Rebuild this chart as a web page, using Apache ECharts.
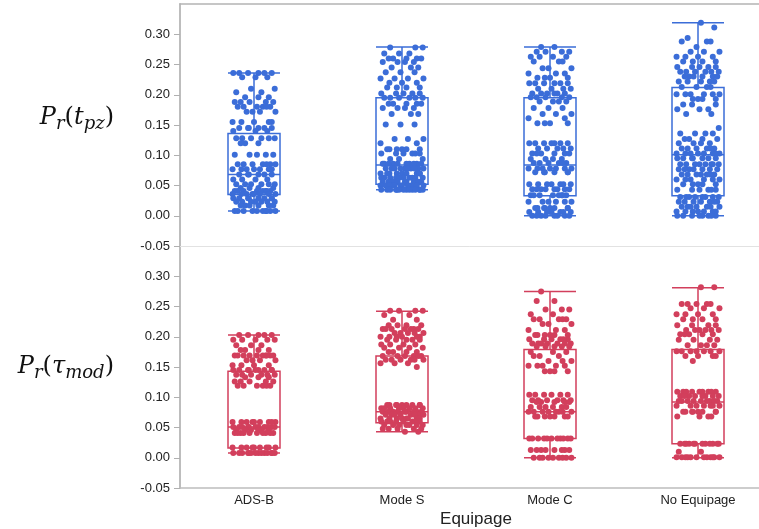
<!DOCTYPE html>
<html>
<head>
<meta charset="utf-8">
<script src="https://cdn.jsdelivr.net/npm/echarts@6/dist/echarts.min.js"></script>
<style>html,body{margin:0;padding:0;background:#fff}#c{width:759px;height:529px}</style>
</head>
<body>
<div id="c"></div>
<script>
const CATS = ['ADS-B', 'Mode S', 'Mode C', 'No Equipage'];
const Y_TICKS = [-0.05, 0, 0.05, 0.1, 0.15, 0.2, 0.25, 0.3];

// box stats [min, Q1, median, Q3, max]
const BOX_TOP = [[0.008,0.035,0.068,0.136,0.236],[0.043,0.052,0.084,0.195,0.279],[0,0.033,0.084,0.195,0.279],[0,0.033,0.101,0.212,0.319]];
const BOX_BOT = [[0.008,0.016,0.051,0.143,0.203],[0.043,0.058,0.076,0.168,0.242],[0,0.032,0.076,0.179,0.275],[0,0.023,0.092,0.179,0.281]];

// horizontal jitter offsets (category units)
const JITTER = [0.03,-0.10,0.12,-0.04,0.07,-0.14,0.01,0.09,-0.08,0.14,-0.02,0.05,-0.12,0.10,-0.06,0.03,-0.09,0.13,-0.03,0.08,-0.13,0.02,0.11,-0.07,0.06,-0.11,0.085,-0.01,0.145,-0.05,0.04,-0.145,0.10,-0.085,0.00,0.12,-0.035];

// P_r(t_pz) points
const TOP_ADSB = [0.236,0.236,0.236,0.236,0.236,0.236,0.229,0.229,0.229,0.21,0.21,0.204,0.204,0.196,0.196,0.196,0.188,0.188,0.188,0.188,0.188,0.18,0.18,0.18,0.18,0.18,0.18,0.172,0.172,0.172,0.172,0.155,0.155,0.155,0.155,0.155,0.145,0.145,0.145,0.145,0.145,0.145,0.14,0.14,0.14,0.128,0.128,0.128,0.128,0.128,0.128,0.12,0.12,0.12,0.101,0.101,0.101,0.101,0.101,0.085,0.085,0.085,0.085,0.085,0.085,0.085,0.077,0.077,0.077,0.077,0.077,0.077,0.077,0.068,0.068,0.068,0.068,0.068,0.068,0.06,0.06,0.06,0.06,0.052,0.052,0.052,0.052,0.052,0.052,0.046,0.046,0.046,0.046,0.041,0.041,0.041,0.041,0.041,0.041,0.041,0.041,0.036,0.036,0.036,0.036,0.036,0.036,0.036,0.036,0.029,0.029,0.029,0.029,0.029,0.029,0.029,0.029,0.023,0.023,0.023,0.023,0.023,0.023,0.023,0.017,0.017,0.017,0.017,0.017,0.017,0.008,0.008,0.008,0.008,0.008,0.008,0.008,0.008,0.008,0.008];
const TOP_MODES = [0.278,0.278,0.278,0.268,0.268,0.268,0.26,0.26,0.26,0.26,0.26,0.254,0.254,0.254,0.254,0.245,0.245,0.245,0.237,0.237,0.237,0.227,0.227,0.227,0.227,0.22,0.22,0.22,0.212,0.212,0.212,0.212,0.202,0.202,0.202,0.202,0.202,0.195,0.195,0.195,0.195,0.195,0.195,0.185,0.185,0.185,0.185,0.185,0.178,0.178,0.178,0.178,0.168,0.168,0.168,0.151,0.151,0.151,0.127,0.127,0.127,0.12,0.12,0.11,0.11,0.11,0.11,0.11,0.11,0.103,0.103,0.103,0.103,0.103,0.103,0.094,0.094,0.094,0.086,0.086,0.086,0.086,0.086,0.086,0.086,0.086,0.086,0.086,0.078,0.078,0.078,0.078,0.078,0.078,0.078,0.078,0.078,0.078,0.07,0.07,0.07,0.07,0.07,0.07,0.07,0.07,0.07,0.063,0.063,0.063,0.063,0.063,0.063,0.063,0.063,0.063,0.063,0.056,0.056,0.056,0.056,0.056,0.056,0.056,0.056,0.056,0.056,0.05,0.05,0.05,0.05,0.05,0.05,0.05,0.05,0.05,0.05,0.05,0.05,0.043,0.043,0.043,0.043,0.043,0.043,0.043,0.043,0.043,0.043,0.043,0.043,0.043,0.043];
const TOP_MODEC = [0.279,0.279,0.271,0.271,0.271,0.271,0.263,0.263,0.263,0.263,0.255,0.255,0.255,0.244,0.244,0.244,0.235,0.235,0.235,0.228,0.228,0.228,0.228,0.219,0.219,0.219,0.219,0.219,0.219,0.21,0.21,0.21,0.21,0.202,0.202,0.202,0.202,0.202,0.202,0.196,0.196,0.196,0.196,0.196,0.189,0.189,0.189,0.189,0.178,0.178,0.178,0.168,0.168,0.168,0.161,0.161,0.153,0.153,0.153,0.153,0.12,0.12,0.12,0.12,0.12,0.12,0.12,0.111,0.111,0.111,0.111,0.111,0.103,0.103,0.103,0.103,0.103,0.103,0.094,0.094,0.094,0.094,0.087,0.087,0.087,0.087,0.087,0.087,0.078,0.078,0.078,0.078,0.078,0.078,0.078,0.072,0.072,0.072,0.072,0.072,0.072,0.052,0.052,0.052,0.052,0.052,0.052,0.052,0.044,0.044,0.044,0.044,0.044,0.044,0.044,0.044,0.034,0.034,0.034,0.034,0.034,0.034,0.034,0.034,0.023,0.023,0.023,0.023,0.023,0.023,0.013,0.013,0.013,0.013,0.013,0.013,0.013,0.013,0.006,0.006,0.006,0.006,0.006,0.006,0.006,0,0,0,0,0,0,0,0];
const TOP_NOEQ = [0.319,0.311,0.294,0.288,0.288,0.288,0.279,0.271,0.271,0.271,0.263,0.263,0.263,0.263,0.255,0.255,0.255,0.255,0.246,0.246,0.246,0.246,0.246,0.238,0.238,0.238,0.238,0.238,0.238,0.23,0.23,0.23,0.23,0.23,0.23,0.222,0.222,0.222,0.222,0.222,0.213,0.213,0.213,0.213,0.201,0.201,0.201,0.201,0.201,0.201,0.193,0.193,0.193,0.193,0.184,0.184,0.184,0.176,0.176,0.176,0.168,0.168,0.145,0.136,0.136,0.136,0.136,0.127,0.127,0.127,0.127,0.12,0.12,0.12,0.12,0.111,0.111,0.111,0.111,0.111,0.111,0.103,0.103,0.103,0.103,0.103,0.103,0.103,0.103,0.095,0.095,0.095,0.095,0.095,0.095,0.095,0.085,0.085,0.085,0.085,0.085,0.085,0.085,0.085,0.077,0.077,0.077,0.077,0.077,0.077,0.077,0.068,0.068,0.068,0.068,0.068,0.068,0.068,0.06,0.06,0.06,0.06,0.06,0.06,0.052,0.052,0.052,0.052,0.052,0.043,0.043,0.043,0.043,0.043,0.043,0.031,0.031,0.031,0.031,0.031,0.031,0.031,0.031,0.023,0.023,0.023,0.023,0.023,0.023,0.023,0.015,0.015,0.015,0.015,0.015,0.015,0.015,0.007,0.007,0.007,0.007,0.007,0.007,0.007,0,0,0,0,0,0,0,0];

// P_r(tau_mod) points
const BOT_ADSB = [0.203,0.203,0.203,0.203,0.203,0.195,0.195,0.195,0.195,0.195,0.186,0.186,0.186,0.178,0.178,0.178,0.178,0.169,0.169,0.169,0.169,0.169,0.169,0.169,0.169,0.169,0.169,0.161,0.161,0.161,0.161,0.153,0.153,0.153,0.153,0.145,0.145,0.145,0.145,0.145,0.145,0.145,0.145,0.145,0.137,0.137,0.137,0.137,0.137,0.137,0.133,0.133,0.133,0.126,0.126,0.126,0.126,0.126,0.119,0.119,0.119,0.119,0.119,0.119,0.059,0.059,0.059,0.059,0.059,0.059,0.059,0.059,0.059,0.051,0.051,0.051,0.051,0.051,0.051,0.051,0.051,0.051,0.051,0.051,0.046,0.046,0.046,0.046,0.046,0.046,0.041,0.041,0.041,0.041,0.041,0.041,0.041,0.041,0.041,0.041,0.017,0.017,0.017,0.017,0.017,0.017,0.017,0.017,0.017,0.008,0.008,0.008,0.008,0.008,0.008,0.008,0.008,0.008,0.008,0.008,0.008,0.008,0.008];
const BOT_MODES = [0.243,0.243,0.243,0.243,0.236,0.236,0.228,0.228,0.219,0.219,0.219,0.219,0.213,0.213,0.213,0.213,0.213,0.213,0.213,0.206,0.206,0.206,0.206,0.206,0.2,0.2,0.2,0.2,0.2,0.2,0.195,0.195,0.195,0.195,0.195,0.187,0.187,0.187,0.187,0.182,0.182,0.182,0.182,0.175,0.175,0.175,0.175,0.168,0.168,0.168,0.168,0.168,0.168,0.162,0.162,0.162,0.162,0.162,0.162,0.156,0.156,0.156,0.15,0.087,0.087,0.087,0.087,0.087,0.087,0.087,0.087,0.087,0.082,0.082,0.082,0.082,0.082,0.082,0.082,0.082,0.076,0.076,0.076,0.076,0.076,0.076,0.076,0.076,0.076,0.071,0.071,0.071,0.071,0.071,0.071,0.071,0.071,0.065,0.065,0.065,0.065,0.065,0.065,0.065,0.065,0.06,0.06,0.06,0.06,0.06,0.06,0.06,0.06,0.054,0.054,0.054,0.054,0.054,0.054,0.054,0.048,0.048,0.048,0.048,0.048,0.043,0.043];
const BOT_MODEC = [0.275,0.259,0.259,0.245,0.245,0.245,0.237,0.237,0.229,0.229,0.229,0.229,0.229,0.221,0.221,0.221,0.211,0.211,0.211,0.203,0.203,0.203,0.203,0.203,0.203,0.196,0.196,0.196,0.196,0.196,0.196,0.189,0.189,0.189,0.189,0.189,0.189,0.189,0.184,0.184,0.184,0.184,0.184,0.175,0.175,0.175,0.168,0.168,0.168,0.16,0.16,0.16,0.152,0.152,0.152,0.152,0.152,0.143,0.143,0.143,0.143,0.104,0.104,0.104,0.104,0.104,0.104,0.095,0.095,0.095,0.095,0.095,0.095,0.092,0.092,0.092,0.092,0.092,0.084,0.084,0.084,0.084,0.084,0.084,0.076,0.076,0.076,0.076,0.076,0.076,0.076,0.076,0.068,0.068,0.068,0.068,0.068,0.068,0.068,0.032,0.032,0.032,0.032,0.032,0.032,0.032,0.032,0.032,0.032,0.032,0.013,0.013,0.013,0.013,0.013,0.013,0.013,0.013,0,0,0,0,0,0,0,0,0];
const BOT_NOEQ = [0.282,0.282,0.254,0.254,0.254,0.254,0.254,0.247,0.247,0.247,0.237,0.237,0.237,0.237,0.229,0.229,0.229,0.229,0.219,0.219,0.219,0.219,0.211,0.211,0.211,0.211,0.211,0.211,0.204,0.204,0.204,0.204,0.204,0.195,0.195,0.195,0.195,0.186,0.186,0.186,0.186,0.176,0.176,0.176,0.176,0.176,0.176,0.176,0.168,0.168,0.168,0.168,0.16,0.109,0.109,0.109,0.109,0.109,0.109,0.109,0.109,0.109,0.102,0.102,0.102,0.102,0.102,0.102,0.102,0.102,0.094,0.094,0.094,0.094,0.094,0.094,0.094,0.094,0.094,0.086,0.086,0.086,0.086,0.086,0.086,0.086,0.076,0.076,0.076,0.076,0.076,0.076,0.076,0.076,0.068,0.068,0.068,0.068,0.023,0.023,0.023,0.023,0.023,0.023,0.023,0.023,0.023,0.023,0.023,0.023,0.01,0.01,0.001,0.001,0.001,0.001,0.001,0.001,0.001,0.001,0.001,0.001,0.001,0.001];

const TOP_POINTS = [TOP_ADSB, TOP_MODES, TOP_MODEC, TOP_NOEQ];
const BOT_POINTS = [BOT_ADSB, BOT_MODES, BOT_MODEC, BOT_NOEQ];

const BLUE = '#3b6dd8';
const RED = '#d23f5c';
const SANS = 'Liberation Sans';
const SERIF = 'DejaVu Serif';

function jittered(groups) {
  const out = [];
  groups.forEach((vals, ci) => {
    vals.forEach((v, k) => {
      out.push([ci + JITTER[(k + ci * 7) % JITTER.length], v]);
    });
  });
  return out;
}

const RICH = {
  i: { fontFamily: SERIF, fontStyle: 'italic', fontSize: 24, color: '#111', lineHeight: 30 },
  n: { fontFamily: SERIF, fontSize: 24, color: '#111', lineHeight: 30 },
  s: { fontFamily: SERIF, fontStyle: 'italic', fontSize: 18, color: '#111', lineHeight: 18, verticalAlign: 'bottom' }
};

function yAxis(gridIndex, name, pad) {
  return {
    gridIndex, type: 'value', min: -0.05, max: 0.35, interval: 0.05,
    axisLine: { show: true, onZero: false, lineStyle: { color: '#bdbdbd', width: 2 } },
    axisTick: { show: true, length: 6, customValues: Y_TICKS, lineStyle: { color: '#b0b0b0', width: 1 } },
    axisLabel: { customValues: Y_TICKS, formatter: v => v.toFixed(2), fontFamily: SANS, fontSize: 13, color: '#222', margin: 10 },
    splitLine: { show: false },
    name, nameLocation: 'middle', nameRotate: 0, nameGap: 66,
    nameTextStyle: { rich: RICH, padding: pad }
  };
}

const chart = echarts.init(document.getElementById('c'), null, { renderer: 'canvas' });
chart.setOption({
  animation: false,
  backgroundColor: '#fff',
  grid: [
    { left: 180, right: -13, top: 4, height: 242, outerBoundsMode: 'none', containLabel: false },
    { left: 180, right: -13, top: 246, height: 242, outerBoundsMode: 'none', containLabel: false }
  ],
  xAxis: [
    { gridIndex: 0, type: 'category', data: CATS, position: 'top',
      axisLine: { show: true, onZero: false, lineStyle: { color: '#b4b4b4', width: 1.5 } },
      axisTick: { show: false }, axisLabel: { show: false } },
    { gridIndex: 0, type: 'value', min: -0.5, max: 3.5, position: 'bottom',
      axisLine: { show: true, onZero: false, lineStyle: { color: '#e2e2e2', width: 1 } },
      axisTick: { show: false }, axisLabel: { show: false }, splitLine: { show: false } },
    { gridIndex: 1, type: 'category', data: CATS, position: 'bottom',
      axisLine: { show: true, onZero: false, lineStyle: { color: '#bdbdbd', width: 1.5 } },
      axisTick: { show: false },
      axisLabel: { fontFamily: SANS, fontSize: 13, color: '#222', margin: 6 },
      name: 'Equipage', nameLocation: 'middle', nameGap: 23,
      nameTextStyle: { fontFamily: SANS, fontSize: 17, color: '#222' } },
    { gridIndex: 1, type: 'value', min: -0.5, max: 3.5, show: false,
      axisLine: { onZero: false }, splitLine: { show: false } }
  ],
  yAxis: [
    yAxis(0, '{i|P}{s|r}{n|(}{i|t}{s|pz}{n|)}', [0, 0, 14, 0]),
    yAxis(1, '{i|P}{s|r}{n|(}{i|τ}{s|mod}{n|)}', [0, 0, 0, 0])
  ],
  series: [
    { type: 'boxplot', xAxisIndex: 0, yAxisIndex: 0, data: BOX_TOP, boxWidth: [52, 52],
      itemStyle: { color: 'rgba(255,255,255,0)', borderColor: BLUE, borderWidth: 1.5 },
      emphasis: { disabled: true }, silent: true },
    { type: 'scatter', xAxisIndex: 1, yAxisIndex: 0, data: jittered(TOP_POINTS), symbolSize: 6,
      itemStyle: { color: BLUE, opacity: 1 }, emphasis: { disabled: true }, silent: true },
    { type: 'boxplot', xAxisIndex: 2, yAxisIndex: 1, data: BOX_BOT, boxWidth: [52, 52],
      itemStyle: { color: 'rgba(255,255,255,0)', borderColor: RED, borderWidth: 1.5 },
      emphasis: { disabled: true }, silent: true },
    { type: 'scatter', xAxisIndex: 3, yAxisIndex: 1, data: jittered(BOT_POINTS), symbolSize: 6,
      itemStyle: { color: RED, opacity: 1 }, emphasis: { disabled: true }, silent: true }
  ]
});
</script>
</body>
</html>
